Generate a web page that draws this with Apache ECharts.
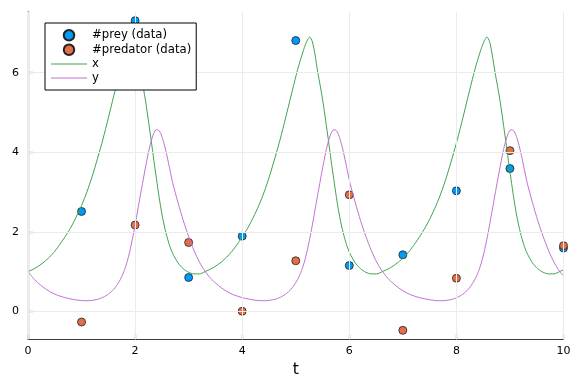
<!DOCTYPE html>
<html>
<head>
<meta charset="utf-8">
<script src="https://cdn.jsdelivr.net/npm/echarts@6/dist/echarts.min.js"></script>
<style>
html,body{margin:0;padding:0;background:#fff;}
#chart{width:576px;height:384px;}
</style>
</head>
<body>
<div id="chart"></div>
<script>
// ---- data ----
var obsT = [1, 2, 3, 4, 5, 6, 7, 8, 9, 10];
var preyObs = [2.51, 7.31, 0.85, 1.89, 6.81, 1.15, 1.42, 3.03, 3.59, 1.59];
var predatorObs = [-0.27, 2.17, 1.73, 0.0, 1.27, 2.93, -0.48, 0.83, 4.04, 1.65];

var curveT = [
  0, 0.1, 0.2, 0.3, 0.4, 0.5, 0.6, 0.7, 0.8, 0.9, 1.0, 1.1, 1.2, 1.3, 1.4, 1.5, 1.6, 1.7, 1.75, 1.8, 1.85, 1.9, 1.95, 2.0, 2.05, 2.1, 2.15, 2.2, 2.25, 2.3, 2.35, 2.4, 2.45, 2.5, 2.55, 2.6, 2.65, 2.7, 2.8, 2.9, 3.0, 3.1, 3.2,
  3.31, 3.41, 3.51, 3.61, 3.71, 3.81, 3.91, 4.01, 4.11, 4.21, 4.31, 4.41, 4.51, 4.61, 4.71, 4.81, 4.91, 5.01, 5.06, 5.11, 5.16, 5.21, 5.26, 5.31, 5.36, 5.41, 5.46, 5.51, 5.56, 5.61, 5.66, 5.71, 5.76, 5.81, 5.86, 5.91, 5.96, 6.01, 6.11, 6.21, 6.31, 6.41, 6.51,
  6.62, 6.72, 6.82, 6.92, 7.02, 7.12, 7.22, 7.32, 7.42, 7.52, 7.62, 7.72, 7.82, 7.92, 8.02, 8.12, 8.22, 8.32, 8.37, 8.42, 8.47, 8.52, 8.57, 8.62, 8.67, 8.72, 8.77, 8.82, 8.87, 8.92, 8.97, 9.02, 9.07, 9.12, 9.17, 9.22, 9.27, 9.32, 9.42, 9.52, 9.62, 9.72, 9.82,
  9.93, 10.0
];
var xCurve = [
  1.00, 1.06, 1.14, 1.24, 1.36, 1.51, 1.69, 1.89, 2.11, 2.37, 2.66, 3.00, 3.40, 3.85, 4.33, 4.86, 5.41, 5.95, 6.20, 6.42, 6.63, 6.80, 6.90, 6.78, 6.45, 6.02, 5.65, 5.25, 4.78, 4.30, 3.80, 3.32, 2.86, 2.45, 2.12, 1.85, 1.63, 1.46, 1.22, 1.07, 0.98, 0.94, 0.94,
  1.00, 1.06, 1.14, 1.24, 1.36, 1.51, 1.69, 1.89, 2.11, 2.37, 2.66, 3.00, 3.40, 3.85, 4.33, 4.86, 5.41, 5.95, 6.20, 6.42, 6.63, 6.80, 6.90, 6.78, 6.45, 6.02, 5.65, 5.25, 4.78, 4.30, 3.80, 3.32, 2.86, 2.45, 2.12, 1.85, 1.63, 1.46, 1.22, 1.07, 0.98, 0.94, 0.94,
  1.00, 1.06, 1.14, 1.24, 1.36, 1.51, 1.69, 1.89, 2.11, 2.37, 2.66, 3.00, 3.40, 3.85, 4.33, 4.86, 5.41, 5.95, 6.20, 6.42, 6.63, 6.80, 6.90, 6.78, 6.45, 6.02, 5.65, 5.25, 4.78, 4.30, 3.80, 3.32, 2.86, 2.45, 2.12, 1.85, 1.63, 1.46, 1.22, 1.07, 0.98, 0.94, 0.94,
  1.00, 1.04
];
var yCurve = [
  1.00, 0.83, 0.70, 0.59, 0.50, 0.43, 0.38, 0.34, 0.31, 0.285, 0.27, 0.265, 0.275, 0.30, 0.35, 0.43, 0.55, 0.74, 0.87, 1.03, 1.24, 1.50, 1.82, 2.17, 2.55, 2.93, 3.30, 3.66, 4.00, 4.28, 4.48, 4.57, 4.54, 4.40, 4.17, 3.88, 3.56, 3.24, 2.74, 2.28, 1.88, 1.53, 1.24,
  1.00, 0.83, 0.70, 0.59, 0.50, 0.43, 0.38, 0.34, 0.31, 0.285, 0.27, 0.265, 0.275, 0.30, 0.35, 0.43, 0.55, 0.74, 0.87, 1.03, 1.24, 1.50, 1.82, 2.17, 2.55, 2.93, 3.30, 3.66, 4.00, 4.28, 4.48, 4.57, 4.54, 4.40, 4.17, 3.88, 3.56, 3.24, 2.74, 2.28, 1.88, 1.53, 1.24,
  1.00, 0.83, 0.70, 0.59, 0.50, 0.43, 0.38, 0.34, 0.31, 0.285, 0.27, 0.265, 0.275, 0.30, 0.35, 0.43, 0.55, 0.74, 0.87, 1.03, 1.24, 1.50, 1.82, 2.17, 2.55, 2.93, 3.30, 3.66, 4.00, 4.28, 4.48, 4.57, 4.54, 4.40, 4.17, 3.88, 3.56, 3.24, 2.74, 2.28, 1.88, 1.53, 1.24,
  1.00, 0.89
];
var xTicks = [0, 2, 4, 6, 8, 10];
var yTicks = [0, 2, 4, 6];
var seriesNames = ['#prey (data)', '#predator (data)', 'x', 'y'];

// ---- build ----
function zip(a, b) { return a.map(function (v, i) { return [v, b[i]]; }); }
var gridLines = xTicks.map(function (v) { return { xAxis: v }; })
  .concat(yTicks.map(function (v) { return { yAxis: v }; }));
var lineIcon = 'path://M0,0L36,0L36,1.1L0,1.1Z';

var font = 'DejaVu Sans';
var axisColor = '#3a3a3a';
var chart = echarts.init(document.getElementById('chart'), null, { renderer: 'canvas' });
chart.setOption({
  animation: false,
  backgroundColor: '#ffffff',
  grid: { left: 28, right: 12.5, top: 11.5, bottom: 44.5 },
  xAxis: {
    type: 'value', min: 0, max: 10,
    name: 't', nameLocation: 'middle', nameGap: 22,
    nameTextStyle: { fontFamily: font, fontSize: 15.5, color: '#000' },
    axisLine: { show: true, onZero: false, lineStyle: { color: axisColor, width: 1.2 } },
    axisTick: { show: true, inside: true, length: 5, customValues: xTicks, lineStyle: { color: axisColor, width: 1.2 } },
    axisLabel: { customValues: xTicks, margin: 6, fontFamily: font, fontSize: 11, color: '#000' },
    splitLine: { show: false }
  },
  yAxis: {
    type: 'value', min: -0.71, max: 7.54,
    axisLine: { show: true, onZero: false, lineStyle: { color: axisColor, width: 1.2 } },
    axisTick: { show: true, inside: true, length: 5, customValues: yTicks, lineStyle: { color: axisColor, width: 1.2 } },
    axisLabel: { customValues: yTicks, margin: 9, fontFamily: font, fontSize: 11, color: '#000' },
    splitLine: { show: false }
  },
  legend: {
    z: 20, zlevel: 0,
    data: [
      { name: seriesNames[0], icon: 'circle' },
      { name: seriesNames[1], icon: 'circle' },
      { name: seriesNames[2], icon: lineIcon },
      { name: seriesNames[3], icon: lineIcon }
    ],
    orient: 'vertical', left: 45, top: 23,
    padding: [6, 5, 6, 6],
    itemGap: 2, itemWidth: 36, itemHeight: 10.5,
    backgroundColor: '#ffffff', borderColor: '#000', borderWidth: 1, borderRadius: 0,
    textStyle: { fontFamily: font, fontSize: 11.7, color: '#000' },
    selectedMode: false
  },
  series: [
    {
      name: 'grid', type: 'line', data: [], silent: true, z: 0,
      markLine: {
        silent: true, symbol: 'none', animation: false,
        label: { show: false },
        lineStyle: { color: '#ebebeb', width: 1, type: 'solid' },
        data: gridLines
      }
    },
    {
      name: seriesNames[0], type: 'scatter', data: zip(obsT, preyObs),
      symbol: 'circle', symbolSize: 8,
      itemStyle: { color: '#009AFA', borderColor: '#222', borderWidth: 0.8, opacity: 1 }
    },
    {
      name: seriesNames[1], type: 'scatter', data: zip(obsT, predatorObs),
      symbol: 'circle', symbolSize: 8,
      itemStyle: { color: '#E26F46', borderColor: '#222', borderWidth: 0.8, opacity: 1 }
    },
    {
      name: seriesNames[2], type: 'line', data: zip(curveT, xCurve),
      symbol: 'none', smooth: 0.25,
      lineStyle: { color: '#3EA44E', width: 1 }, itemStyle: { color: '#3EA44E' }
    },
    {
      name: seriesNames[3], type: 'line', data: zip(curveT, yCurve),
      symbol: 'none', smooth: 0.25,
      lineStyle: { color: '#C271D2', width: 1 }, itemStyle: { color: '#C271D2' }
    }
  ]
});
</script>
</body>
</html>
